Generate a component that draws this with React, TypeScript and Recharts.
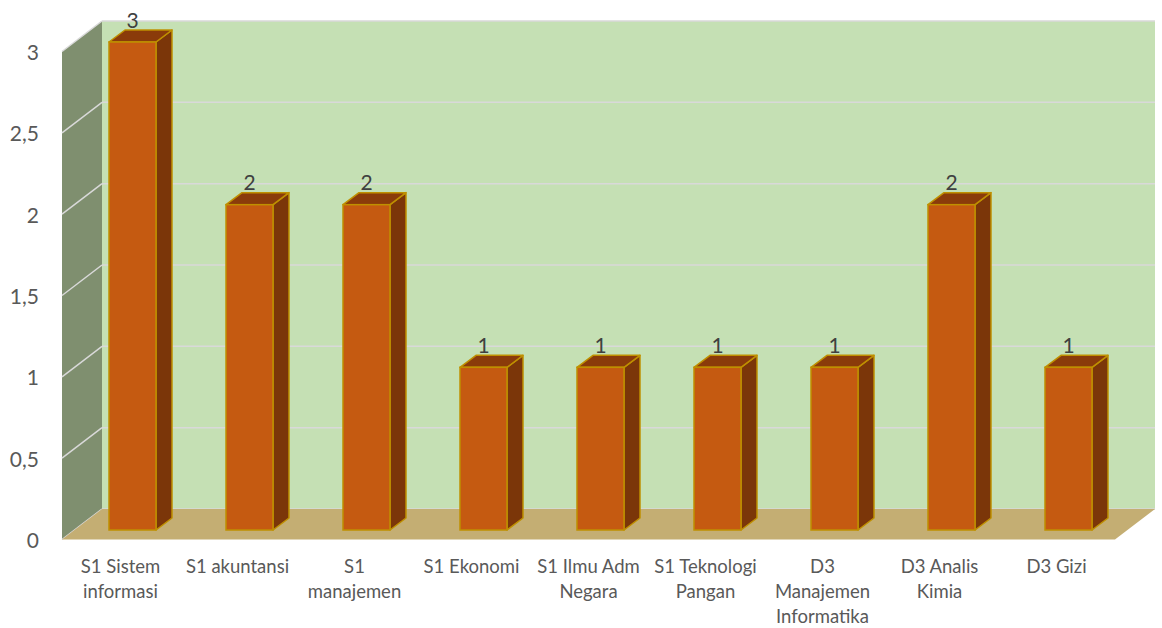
import { BarChart, Bar, XAxis, YAxis, ReferenceArea, LabelList } from "recharts";

// Graduates per study programme
const categories = [
  "S1 Sistem informasi",
  "S1 akuntansi",
  "S1 manajemen",
  "S1 Ekonomi",
  "S1 Ilmu Adm Negara",
  "S1 Teknologi Pangan",
  "D3 Manajemen Informatika",
  "D3 Analis Kimia",
  "D3 Gizi",
];
const counts = [3, 2, 2, 1, 1, 1, 1, 2, 1];
// wrapped category labels, one entry per line
const tickLines = [
  ["S1 Sistem", "informasi"],
  ["S1 akuntansi"],
  ["S1", "manajemen"],
  ["S1 Ekonomi"],
  ["S1 Ilmu Adm", "Negara"],
  ["S1 Teknologi", "Pangan"],
  ["D3", "Manajemen", "Informatika"],
  ["D3 Analis", "Kimia"],
  ["D3 Gizi"],
];
const yTicks = [0, 0.5, 1, 1.5, 2, 2.5, 3];
const Y_MAX = 3;

const data = categories.map((name, i) => ({ name, value: counts[i] }));

const FONT = "Lato, 'Open Sans', sans-serif";

// depth offsets relative to the plane of the bar front faces
const BACK_DX = 28;
const BACK_DY = -21;
const FRONT_DX = -12;
const FRONT_DY = 9.5;
const BAR_DX = 16;
const BAR_DY = 12;

function Walls(props: any) {
  const { x, y, width, height } = props;
  const bx = x + BACK_DX;
  const fx = x + FRONT_DX;
  const bottomBack = y + height + BACK_DY;
  const bottomFront = y + height + FRONT_DY;
  const yAt = (v: number) => y + height * (1 - v / Y_MAX);
  return (
    <g>
      <rect x={bx} y={y + BACK_DY} width={width} height={height} fill="#C5E0B4" />
      <polygon
        points={`${fx},${y + FRONT_DY} ${bx},${y + BACK_DY} ${bx},${bottomBack} ${fx},${bottomFront}`}
        fill="#7F8F6F"
      />
      {yTicks.map((v) => {
        const yy = yAt(v);
        return (
          <g key={v}>
            <line x1={bx} y1={yy + BACK_DY} x2={bx + width} y2={yy + BACK_DY} stroke="#D9D9D9" strokeWidth={1.5} />
            <line x1={fx} y1={yy + FRONT_DY} x2={bx} y2={yy + BACK_DY} stroke="#D9D9D9" strokeWidth={1.5} />
          </g>
        );
      })}
      <polygon
        points={`${bx},${bottomBack} ${bx + width},${bottomBack} ${fx + width},${bottomFront} ${fx},${bottomFront}`}
        fill="#C4AE73"
      />
    </g>
  );
}

function Bar3D(props: any) {
  const { x, y, width, height } = props;
  const stroke = "#BF9000";
  return (
    <g>
      <polygon
        points={`${x + width},${y} ${x + width + BAR_DX},${y - BAR_DY} ${x + width + BAR_DX},${y + height - BAR_DY} ${x + width},${y + height}`}
        fill="#7B3609"
        stroke={stroke}
        strokeWidth={1.5}
        strokeLinejoin="round"
      />
      <polygon
        points={`${x},${y} ${x + BAR_DX},${y - BAR_DY} ${x + width + BAR_DX},${y - BAR_DY} ${x + width},${y}`}
        fill="#8A3B0A"
        stroke={stroke}
        strokeWidth={1.5}
        strokeLinejoin="round"
      />
      <rect x={x} y={y} width={width} height={height} fill="#C55A11" stroke={stroke} strokeWidth={1.5} />
    </g>
  );
}

function XTick(props: any) {
  const { x, y, index } = props;
  const lines = tickLines[index] ?? [];
  return (
    <text x={x - 12} y={y + 43} textAnchor="middle" fill="#595959" fontSize={18.5} fontFamily={FONT}>
      {lines.map((line, i) => (
        <tspan key={i} x={x - 12} dy={i === 0 ? 0 : 25}>
          {line}
        </tspan>
      ))}
    </text>
  );
}

function YTick(props: any) {
  const { x, y, payload } = props;
  return (
    <text x={x} y={y + FRONT_DY} textAnchor="end" dominantBaseline="central" fill="#595959" fontSize={21} fontFamily={FONT}>
      {String(payload.value).replace(".", ",")}
    </text>
  );
}

function ValueLabel(props: any) {
  const { x, y, width, value } = props;
  return (
    <text x={x + width / 2} y={y - 23} textAnchor="middle" dominantBaseline="central" fill="#404040" fontSize={21} fontFamily={FONT}>
      {value}
    </text>
  );
}

export default function App() {
  return (
    <div style={{ width: 1162, height: 628 }}>
      <style>{`body{margin:0}`}</style>
      <BarChart width={1162} height={628} data={data} margin={{ top: 42, right: 35, bottom: 0, left: 0 }}>
        <ReferenceArea y1={0} y2={Y_MAX} ifOverflow="visible" shape={<Walls />} />
        <XAxis dataKey="name" axisLine={false} tickLine={false} tickSize={0} tickMargin={0} height={98} interval={0} tick={<XTick />} />
        <YAxis
          domain={[0, Y_MAX]}
          ticks={yTicks}
          axisLine={false}
          tickLine={false}
          tickSize={0}
          tickMargin={35}
          width={74}
          tick={<YTick />}
        />
        <Bar dataKey="value" barSize={47} shape={<Bar3D />} isAnimationActive={false}>
          <LabelList dataKey="value" content={<ValueLabel />} />
        </Bar>
      </BarChart>
    </div>
  );
}
